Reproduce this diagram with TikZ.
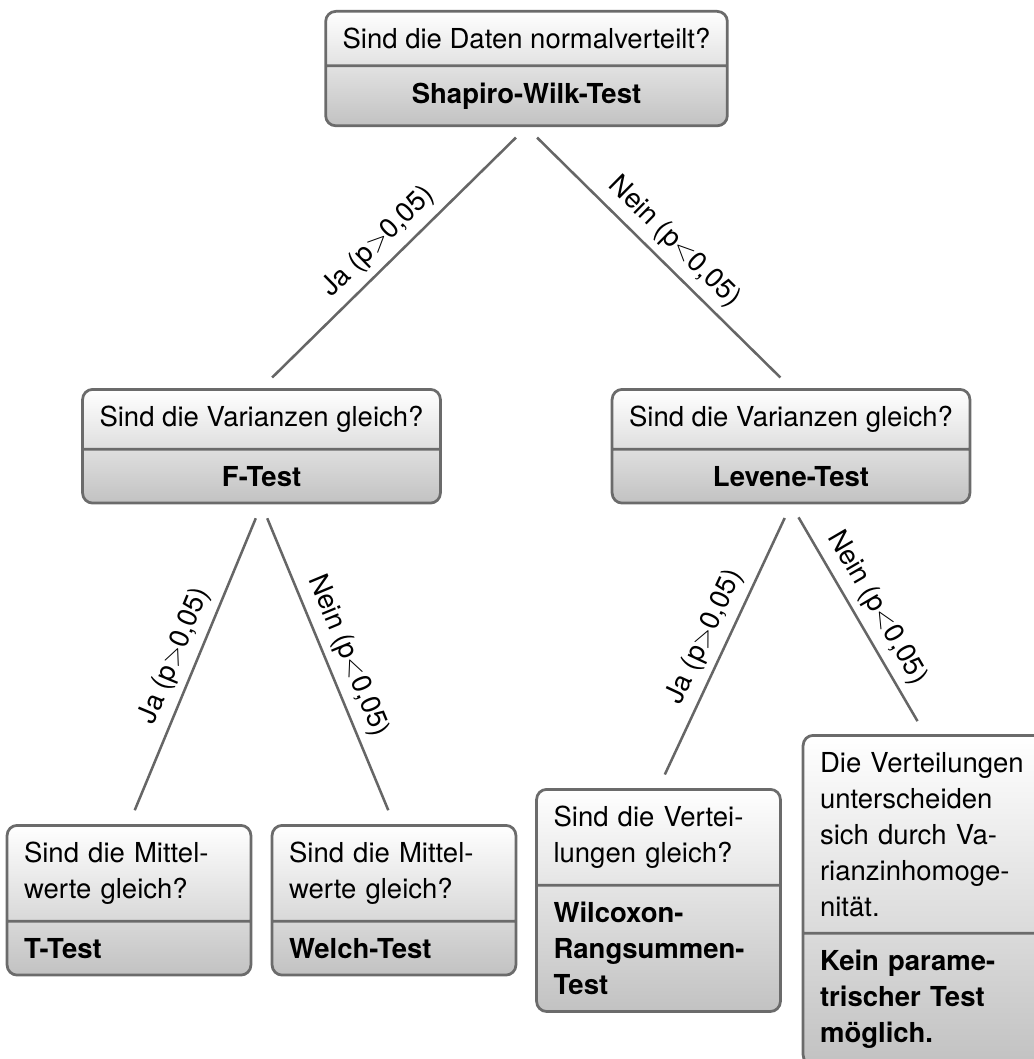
\documentclass[tikz,border=0pt]{standalone}
\usepackage{fontspec}
\setmainfont{TeX Gyre Heros}
\usetikzlibrary{shapes.multipart}

\begin{document}
\begin{tikzpicture}[x=0.4364pt, y=-0.4364pt,
        box/.style={rectangle split, rectangle split parts=2, draw=black!58, line width=1.2pt,
            rounded corners=4.4pt, top color=white, bottom color=black!24,
            inner xsep=7.4pt, inner ysep=6.7pt, anchor=north,
            font=\fontsize{12}{15.7}\selectfont},
        leaf/.style={box, text width=91.6pt, align=left},
        conn/.style={draw=black!60, line width=1.1pt, shorten >=6.5pt, shorten <=6.5pt},
        lbl/.style={midway, sloped, above, font=\fontsize{12}{15.7}\selectfont}]
    \useasboundingbox (0,0) rectangle (1034,1059);

    % Normalverteilung
    \node[box] (shapiro) at (526.5,10) {Sind die Daten normalverteilt? \nodepart{two} \textbf{Shapiro-Wilk-Test}};

    % Varianzen
    \node[box] (ftest) at (261.5,388) {Sind die Varianzen gleich? \nodepart{two} \textbf{F-Test}};
    \node[box] (levene) at (791,388) {Sind die Varianzen gleich? \nodepart{two} \textbf{Levene-Test}};

    % Blaetter
    \node[leaf] (ttest) at (129,824) {Sind die Mittel-\\werte gleich? \nodepart{two} \textbf{T-Test}};
    \node[leaf] (welch) at (394,824) {Sind die Mittel-\\werte gleich? \nodepart{two} \textbf{Welch-Test}};
    \node[leaf] (wilcox) at (658.5,788) {Sind die Vertei-\\lungen gleich? \nodepart{two} \textbf{Wilcoxon-\\Rangsummen-\\Test}};
    \node[leaf] (keintest) at (925,734) {Die Verteilungen\\unterscheiden\\sich durch Va-\\rianzinhomoge-\\nität. \nodepart{two} \textbf{Kein parame-\\trischer Test\\möglich.}};

    \draw[conn] (shapiro.south) -- node[lbl] {Ja (p$>$0,05)} (ftest.north);
    \draw[conn] (shapiro.south) -- node[lbl] {Nein (p$<$0,05)} (levene.north);
    \draw[conn] (ftest.south) -- node[lbl] {Ja (p$>$0,05)} (ttest.north);
    \draw[conn] (ftest.south) -- node[lbl] {Nein (p$<$0,05)} (welch.north);
    \draw[conn] (levene.south) -- node[lbl] {Ja (p$>$0,05)} (wilcox.north);
    \draw[conn] (levene.south) -- node[lbl] {Nein (p$<$0,05)} (keintest.north);
\end{tikzpicture}
\end{document}
